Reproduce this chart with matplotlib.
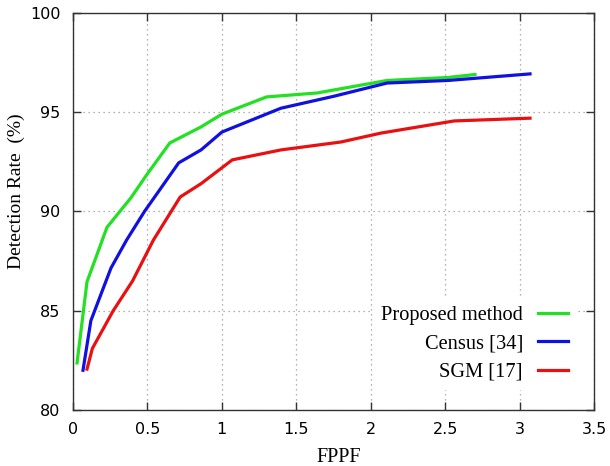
import matplotlib.pyplot as plt

# FPPF vs detection rate for the three matchers
proposed_x = [0.027, 0.094, 0.228, 0.39, 0.50, 0.65, 0.86, 1.0, 1.30, 1.64, 2.11, 2.52, 2.70]
proposed_y = [82.37, 86.46, 89.2, 90.7, 91.9, 93.45, 94.26, 94.9, 95.77, 95.97, 96.6, 96.75, 96.9]

census_x = [0.067, 0.12, 0.255, 0.36, 0.48, 0.71, 0.86, 1.0, 1.396, 1.75, 2.11, 2.52, 3.07]
census_y = [82.0, 84.5, 87.15, 88.56, 90.0, 92.45, 93.1, 94.0, 95.2, 95.8, 96.47, 96.6, 96.93]

sgm_x = [0.094, 0.13, 0.27, 0.40, 0.54, 0.72, 0.86, 1.07, 1.396, 1.8, 2.07, 2.56, 3.07]
sgm_y = [82.06, 83.1, 85.0, 86.5, 88.56, 90.73, 91.4, 92.6, 93.1, 93.5, 93.95, 94.56, 94.7]

xticks = [0, 0.5, 1, 1.5, 2, 2.5, 3, 3.5]
xtick_labels = ['0', '0.5', '1', '1.5', '2', '2.5', '3', '3.5']
yticks = [80, 85, 90, 95, 100]

fig = plt.figure(figsize=(6.1, 4.66), dpi=100)
ax = fig.add_axes([0.1197, 0.1202, 0.8541, 0.852])

ax.plot(proposed_x, proposed_y, color='#22e022', lw=2.3, label='Proposed method')
ax.plot(census_x, census_y, color='#1010e0', lw=2.3, label='Census [34]')
ax.plot(sgm_x, sgm_y, color='#e81010', lw=2.3, label='SGM [17]')

ax.set_xlim(0, 3.5)
ax.set_ylim(80, 100)
ax.set_xticks(xticks)
ax.set_xticklabels(xtick_labels)
ax.set_yticks(yticks)
ax.grid(True, ls=(0, (1, 3)), color='#999999', lw=0.9)
ax.tick_params(direction='in', length=6, width=1, top=True, right=True,
               labelsize=11.5, pad=9, color='#333333')
for sp in ax.spines.values():
    sp.set_color('#333333')
    sp.set_linewidth(1.0)

ax.set_xlabel('FPPF', family='Liberation Serif', fontsize=14.5)
ax.xaxis.set_label_coords(0.51, -0.095)
ax.set_ylabel('Detection Rate  (%)', family='Liberation Serif', fontsize=14)
ax.yaxis.set_label_coords(-0.093, 0.552)

leg = ax.legend(loc='lower right', bbox_to_anchor=(0.985, 0.025), markerfirst=False,
                frameon=True, fancybox=False, handlelength=1.45, handletextpad=0.75,
                labelspacing=0.45, prop={'family': 'Liberation Serif', 'size': 14.7})
leg.get_frame().set_edgecolor('none')
leg.get_frame().set_facecolor('white')
leg.get_frame().set_alpha(1)
for t in leg.get_texts():
    t.set_ha('right')

fig.savefig('out.png', dpi=100)
